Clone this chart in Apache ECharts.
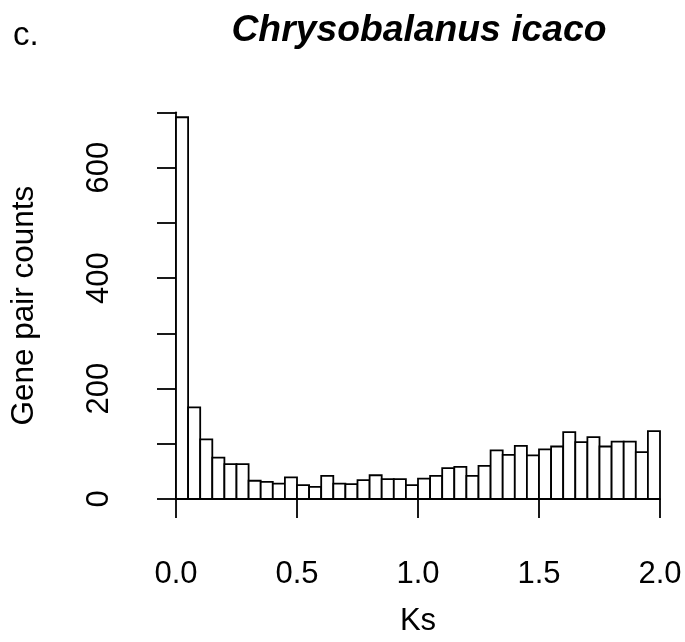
<!DOCTYPE html>
<html>
<head>
<meta charset="utf-8">
<script src="https://cdn.jsdelivr.net/npm/echarts@6/dist/echarts.min.js"></script>
<style>html,body{margin:0;padding:0;background:#fff}#c{width:685px;height:642px}</style>
</head>
<body>
<div id="c"></div>
<script>
const binEdges = [0.00,0.05,0.10,0.15,0.20,0.25,0.30,0.35,0.40,0.45,0.50,0.55,0.60,0.65,0.70,0.75,0.80,0.85,0.90,0.95,1.00,1.05,1.10,1.15,1.20,1.25,1.30,1.35,1.40,1.45,1.50,1.55,1.60,1.65,1.70,1.75,1.80,1.85,1.90,1.95,2.00];
const counts = [691,166,108,75,63,63,33,31,28,39,25,22,42,28,27,34,43,36,36,25,37,42,56,58,42,60,88,80,96,79,90,95,121,103,112,95,104,104,85,123];
const xTicks = [0.0,0.5,1.0,1.5,2.0];
const yTicks = [0,100,200,300,400,500,600,700];
const yLabelled = [0,200,400,600];

const FONT = 'Liberation Sans, Arial, sans-serif';
const chart = echarts.init(document.getElementById('c'), null, {renderer:'canvas'});
const data = counts.map((c,i)=>[binEdges[i], binEdges[i+1], c]);
chart.setOption({
  animation:false,
  backgroundColor:'#fff',
  title:[
    {text:'Chrysobalanus icaco', left:414, top:7, textAlign:'center',
     textStyle:{fontFamily:FONT, fontSize:37.3, fontWeight:'bold', fontStyle:'italic', color:'#000'}},
    {text:'c.', left:8, top:14,
     textStyle:{fontFamily:FONT, fontSize:33, fontWeight:'normal', color:'#000'}}
  ],
  grid:{left:173, right:25, top:112.3, bottom:140.5, containLabel:false},
  xAxis:{type:'value', min:xTicks[0], max:xTicks[xTicks.length-1], interval:0.5, offset:16,
    name:'Ks', nameLocation:'middle', nameGap:91,
    nameTextStyle:{fontFamily:FONT, fontSize:31, color:'#000'},
    axisLine:{show:true, lineStyle:{color:'#000', width:1.8}},
    axisTick:{show:true, length:19, lineStyle:{color:'#000', width:1.8}},
    axisLabel:{fontFamily:FONT, fontSize:31, color:'#000', margin:44, formatter:v=>v.toFixed(1)},
    splitLine:{show:false}},
  yAxis:{type:'value', min:yTicks[0], max:yTicks[yTicks.length-1], interval:100, offset:21,
    name:'Gene pair counts', nameLocation:'middle', nameGap:115, nameRotate:90,
    nameTextStyle:{fontFamily:FONT, fontSize:31.5, color:'#000'},
    axisLine:{show:true, lineStyle:{color:'#000', width:1.8}},
    axisTick:{show:true, length:19, lineStyle:{color:'#000', width:1.8}},
    axisLabel:{fontFamily:FONT, fontSize:31, color:'#000', margin:40, rotate:90,
      formatter:v=>yLabelled.indexOf(v)>=0?String(v):''},
    splitLine:{show:false}},
  series:[{type:'custom', data:data,
    renderItem:function(params, api){
      const p0 = api.coord([api.value(0), api.value(2)]);
      const p1 = api.coord([api.value(1), 0]);
      return {type:'rect', shape:{x:p0[0], y:p0[1], width:p1[0]-p0[0], height:p1[1]-p0[1]},
        style:{fill:'#fff', stroke:'#000', lineWidth:1.8}};
    },
    encode:{x:[0,1], y:2}}]
});
</script>
</body>
</html>
